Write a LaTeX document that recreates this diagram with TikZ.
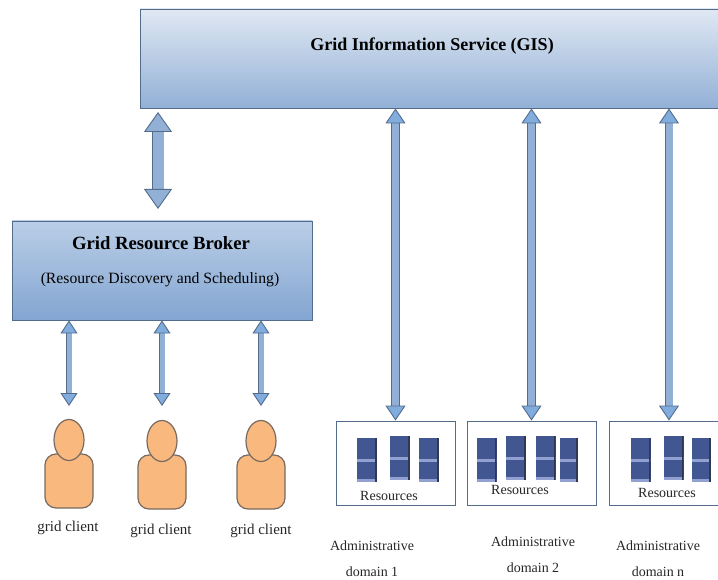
\documentclass[tikz,border=0pt]{standalone}
\usepackage{fontspec}
\setmainfont{Liberation Serif}
\usetikzlibrary{arrows.meta,shapes.geometric}

\definecolor{GisTopColor}{RGB}{224,232,243}
\definecolor{GisBottomColor}{RGB}{146,176,214}
\definecolor{BrokerTopColor}{RGB}{186,206,230}
\definecolor{BrokerBottomColor}{RGB}{131,165,210}
\definecolor{BoxEdgeColor}{RGB}{84,108,140}
\definecolor{TubeColor}{RGB}{146,176,214}
\definecolor{TipColor}{RGB}{128,172,222}
\definecolor{ClientColor}{RGB}{248,184,126}
\definecolor{ClientEdgeColor}{RGB}{120,106,96}
\definecolor{ServerColor}{RGB}{66,86,146}
\definecolor{ServerEdgeColor}{RGB}{48,56,84}
\definecolor{ServerBandColor}{RGB}{146,160,210}

\tikzstyle{service-base}=[rectangle,
                          draw=BoxEdgeColor,
                          line width=0.9pt,
                          text centered,
                          inner sep=0pt
                         ]
\tikzstyle{gisbox}=[service-base,
                    top color=GisTopColor,
                    bottom color=GisBottomColor,
                    minimum width=596pt,
                    minimum height=99pt]
\tikzstyle{brokerbox}=[service-base,
                       top color=BrokerTopColor,
                       bottom color=BrokerBottomColor,
                       minimum width=300pt,
                       minimum height=99pt]
\tikzstyle{domainbox}=[service-base,
                       fill=white,
                       minimum height=84pt]
\tikzstyle{clienthead}=[ellipse,
                        draw=ClientEdgeColor,
                        fill=ClientColor,
                        line width=1.2pt,
                        minimum width=30pt,
                        minimum height=41pt,
                        inner sep=0pt]
\tikzstyle{clientbody}=[rectangle,
                        rounded corners=11pt,
                        draw=ClientEdgeColor,
                        fill=ClientColor,
                        line width=1.2pt,
                        minimum width=48pt,
                        minimum height=54pt,
                        inner sep=0pt]
\tikzstyle{server}=[rectangle,
                    fill=ServerColor,
                    minimum width=20pt,
                    minimum height=44pt,
                    inner sep=0pt,
                    path picture={
                      \fill[ServerBandColor] ([yshift=1.5pt]path picture bounding box.west) rectangle ([yshift=-1.5pt]path picture bounding box.east);
                      \fill[ServerBandColor] (path picture bounding box.south west) rectangle ([yshift=3.5pt]path picture bounding box.south east);
                      \fill[ServerEdgeColor] (path picture bounding box.south east) rectangle ([xshift=-2pt]path picture bounding box.north east);
                    }]
\tikzstyle{tube}=[double=TubeColor,
                  draw=BoxEdgeColor,
                  line width=0.9pt,
                  double distance=7pt,
                  {Triangle[length=15pt,width=20pt,fill=TipColor,color=BoxEdgeColor,line width=0.9pt]}-{Triangle[length=15pt,width=20pt,fill=TipColor,color=BoxEdgeColor,line width=0.9pt]}]
\tikzstyle{thicktube}=[double=TubeColor,
                  draw=BoxEdgeColor,
                  line width=0.9pt,
                  double distance=11pt,
                  {Triangle[length=20pt,width=28pt,fill=TubeColor,color=BoxEdgeColor,line width=0.9pt]}-{Triangle[length=20pt,width=28pt,fill=TubeColor,color=BoxEdgeColor,line width=0.9pt]}]
\tikzstyle{thintube}=[double=TubeColor,
                  draw=BoxEdgeColor,
                  line width=0.9pt,
                  double distance=5pt,
                  {Triangle[length=13pt,width=17pt,fill=TipColor,color=BoxEdgeColor,line width=0.9pt]}-{Triangle[length=13pt,width=17pt,fill=TipColor,color=BoxEdgeColor,line width=0.9pt]}]
\tikzstyle{smalltext}=[font=\fontsize{14}{26}\selectfont, align=center, inner sep=0pt, text=black!85]
\tikzstyle{clienttext}=[font=\fontsize{15}{18}\selectfont, inner sep=0pt, text=black!85]

\begin{document}
\begin{tikzpicture}[x=1pt, y=-1pt]
\useasboundingbox (0,0) rectangle (718,580);

\node at (438, 58.5) (gis) [gisbox] {};
\node at (432, 46.5) (gis_t) [font=\fontsize{18}{20}\selectfont\bfseries, inner sep=0pt] {Grid Information Service (GIS)};

\node at (162, 270.5) (broker) [brokerbox] {};
\node at (161, 243.5) (broker_t) [font=\fontsize{18.7}{20}\selectfont\bfseries, inner sep=0pt] {Grid Resource Broker};
\node at (160, 280) (broker_s) [font=\fontsize{15.7}{18}\selectfont, inner sep=0pt] {(Resource Discovery and Scheduling)};

% clients
\node at (69, 481) (body1) [clientbody] {};
\node at (69, 440) (head1) [clienthead] {};
\node at (162, 482) (body2) [clientbody] {};
\node at (162, 441) (head2) [clienthead] {};
\node at (261, 482) (body3) [clientbody] {};
\node at (261, 441) (head3) [clienthead] {};
\node at (68, 528) (client1) [clienttext] {grid client};
\node at (161, 531) (client2) [clienttext] {grid client};
\node at (261, 531) (client3) [clienttext] {grid client};

% domains
\node at (395.5, 463) (domain1) [domainbox, minimum width=119pt] {};
\node at (531.5, 463) (domain2) [domainbox, minimum width=129pt] {};
\node at (669, 463) (domain3) [domainbox, minimum width=120pt] {};

\node at (367, 460) (srv11) [server] {};
\node at (400, 458) (srv12) [server] {};
\node at (429, 460) (srv13) [server] {};
\node at (486.5, 460) (srv21) [server] {};
\node at (516, 458) (srv22) [server] {};
\node at (545.5, 458) (srv23) [server] {};
\node at (569, 460) (srv24) [server, minimum width=18pt] {};
\node at (640.5, 460) (srv31) [server] {};
\node at (673.5, 458) (srv32) [server] {};
\node at (701.5, 460) (srv33) [server, minimum width=19pt] {};

\node at (389, 496) (res1) [smalltext] {Resources};
\node at (520, 490) (res2) [smalltext] {Resources};
\node at (667, 493) (res3) [smalltext] {Resources};

\node at (372, 559) (admin1) [smalltext] {Administrative\\domain 1};
\node at (533, 555) (admin2) [smalltext] {Administrative\\domain 2};
\node at (658, 559) (admin3) [smalltext] {Administrative\\domain n};

\coordinate (gis_port) at (158, 112);
\coordinate (broker_port) at (158, 209);
\coordinate (client1_port) at (69, 406);
\coordinate (client2_port) at (162, 406);
\coordinate (client3_port) at (261, 406);

\draw[thicktube] (gis_port) -- (broker_port);
\draw[tube] (gis.south -| domain1.north) -- (domain1.north);
\draw[tube] (gis.south -| domain2.north) -- (domain2.north);
\draw[tube] (gis.south -| domain3.north) -- (domain3.north);
\draw[thintube] (broker.south -| client1_port) -- (client1_port);
\draw[thintube] (broker.south -| client2_port) -- (client2_port);
\draw[thintube] (broker.south -| client3_port) -- (client3_port);

\end{tikzpicture}
\end{document}
